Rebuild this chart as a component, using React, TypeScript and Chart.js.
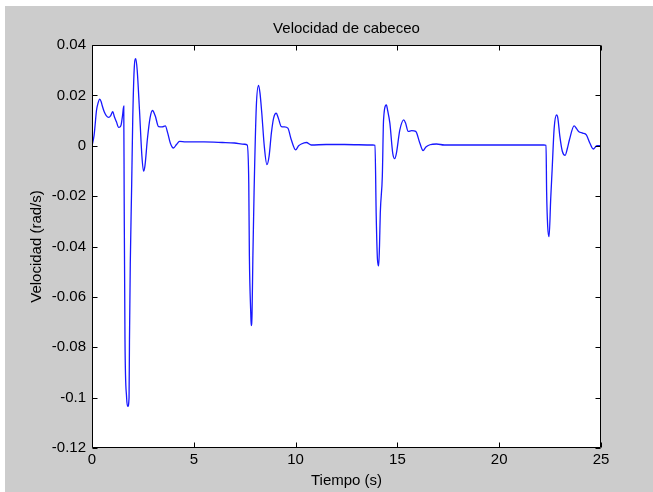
import React, { useEffect, useRef } from 'react';
import { Chart, registerables } from 'chart.js';

Chart.register(...registerables);

// ---- data ----
const timeS: number[] = [
  0, 0.1, 0.15, 0.22, 0.3, 0.38, 0.45, 0.5, 0.6, 0.7, 0.82, 0.92, 1.02, 1.1, 1.2, 1.31, 1.38, 1.43, 1.5, 1.56,
  1.58, 1.62, 1.7, 1.76, 1.82, 1.84, 1.88, 1.95, 2.0, 2.07, 2.15, 2.22, 2.33, 2.45, 2.53, 2.6, 2.72, 2.85, 2.97,
  3.1, 3.27, 3.45, 3.6, 3.72, 3.85, 4.0, 4.15, 4.3, 4.6, 5.5, 6.4, 7.0, 7.5, 7.62,
  7.7, 7.73, 7.8, 7.82, 7.86, 7.9, 7.96, 8.07, 8.18, 8.25, 8.34, 8.46, 8.59, 8.7, 8.81, 8.92, 9.05, 9.15, 9.3,
  9.45, 9.62, 9.78, 10.0, 10.15, 10.28, 10.53, 10.77, 11.5, 12.4, 13.8, 13.9,
  13.96, 14.02, 14.08, 14.12, 14.16, 14.26, 14.32, 14.46, 14.52, 14.63, 14.77, 14.87, 14.95, 15.12, 15.31, 15.4,
  15.53, 15.7, 15.9, 16.1, 16.26, 16.4, 16.6, 16.92, 17.3, 19, 21, 22.2, 22.3,
  22.33, 22.38, 22.45, 22.53, 22.6, 22.7, 22.82, 22.88, 22.98, 23.1, 23.24, 23.35, 23.45, 23.68, 23.8, 23.9,
  24.1, 24.28, 24.45, 24.62, 24.8, 25,
];
const velocity: number[] = [
  0, 0.004, 0.008, 0.014, 0.017, 0.0185, 0.0175, 0.016, 0.0135, 0.012, 0.0113, 0.012, 0.0135, 0.0115, 0.0095, 0.0073, 0.0075, 0.0083, 0.012, 0.0157,
  -0.02, -0.077, -0.1, -0.1035, -0.1, -0.078, -0.047, -0.015, 0.01, 0.03, 0.0346, 0.03, 0.0145, -0.004, -0.0101, -0.008, 0.0026, 0.011, 0.014,
  0.012, 0.0076, 0.0075, 0.0079, 0.005, 0.001, -0.0009, 0.0005, 0.0017, 0.0015, 0.0015, 0.0013, 0.0011, 0.0006, 0.0003,
  -0.015, -0.0437, -0.067, -0.0714, -0.067, -0.045, -0.0186, 0.0155, 0.024, 0.021, 0.0129, 0, -0.0075, -0.004, 0.005, 0.011, 0.0129, 0.011, 0.0076,
  0.0075, 0.007, 0.0026, -0.0016, 0, 0.0007, 0.0013, 0.0003, 0.0005, 0.0005, 0.0003, 0.0002,
  -0.028, -0.045, -0.0477, -0.04, -0.0266, -0.012, 0.0103, 0.0162, 0.014, 0.009, -0.0029, -0.0051, -0.003, 0.0063, 0.0103, 0.009,
  0.0057, 0.006, 0.0057, 0.0011, -0.0019, -0.0005, 0.0004, 0.0007, 0.0003, 0.0003, 0.0003, 0.0003, 0.0002,
  -0.0185, -0.0317, -0.0361, -0.021, -0.0095, 0.007, 0.0122, 0.011, 0.0037, -0.0022, -0.0038, -0.001, 0.0024, 0.0079, 0.0068, 0.0057,
  0.005, 0.0043, 0.0011, -0.0013, 0, 0,
];
const xTickValues: number[] = [0, 5, 10, 15, 20, 25];
const yTickValues: number[] = [0.04, 0.02, 0, -0.02, -0.04, -0.06, -0.08, -0.1, -0.12];
const chartTitle = 'Velocidad de cabeceo';
const xAxisLabel = 'Tiempo (s)';
const yAxisLabel = 'Velocidad (rad/s)';

const W = 653;
const H = 492;
const FONT = "'Liberation Sans', Arial, Helvetica, sans-serif";

const framePlugin = {
  id: 'matlabFrame',
  beforeDraw(chart: any) {
    const { ctx, chartArea: a } = chart;
    ctx.save();
    ctx.fillStyle = '#ffffff';
    ctx.fillRect(0, 0, W, H);
    ctx.fillStyle = '#cccccc';
    ctx.fillRect(5, 6, W - 5, H - 6);
    ctx.fillStyle = '#ffffff';
    ctx.fillRect(a.left, a.top, a.right - a.left, a.bottom - a.top);
    ctx.restore();
  },
  afterDatasetsDraw(chart: any) {
    const { ctx, chartArea: a, scales } = chart;
    const xs = scales.x;
    const ys = scales.y;
    const L = 5;
    const l = Math.round(a.left) + 0.5;
    const r = Math.round(a.right) - 0.5;
    const t = Math.round(a.top) + 0.5;
    const b = Math.round(a.bottom) - 0.5;
    ctx.save();
    ctx.strokeStyle = '#000000';
    ctx.lineWidth = 1;
    ctx.beginPath();
    ctx.rect(l, t, r - l, b - t);
    xTickValues.forEach((v) => {
      const px = Math.round(xs.getPixelForValue(v)) + 0.5;
      ctx.moveTo(px, b);
      ctx.lineTo(px, b - L);
      ctx.moveTo(px, t);
      ctx.lineTo(px, t + L);
    });
    yTickValues.forEach((v) => {
      const py = Math.round(ys.getPixelForValue(v)) + 0.5;
      ctx.moveTo(l, py);
      ctx.lineTo(l + L, py);
      ctx.moveTo(r, py);
      ctx.lineTo(r - L, py);
    });
    ctx.stroke();
    ctx.restore();
  },
};

export default function App() {
  const ref = useRef<HTMLCanvasElement | null>(null);

  useEffect(() => {
    document.body.style.margin = '0';
    const canvas = ref.current;
    if (!canvas) return;
    const points = timeS.map((t, i) => ({ x: t, y: velocity[i] }));
    const chart = new Chart(canvas, {
      type: 'line',
      data: {
        datasets: [
          {
            data: points,
            borderColor: '#1818ff',
            borderWidth: 1.3,
            pointRadius: 0,
            cubicInterpolationMode: 'monotone',
            fill: false,
            xAxisID: 'x',
            yAxisID: 'y',
          },
        ],
      },
      options: {
        responsive: false,
        animation: false,
        devicePixelRatio: 1,
        layout: { padding: { left: 0, top: 0, right: 52, bottom: 0 } },
        plugins: {
          legend: { display: false },
          tooltip: { enabled: false },
          title: { display: false },
        },
        scales: {
          x: {
            type: 'linear',
            position: 'bottom',
            min: 0,
            max: 25,
            grid: { display: false, drawTicks: false },
            border: { display: false },
            afterBuildTicks: (scale: any) => {
              scale.ticks = xTickValues.map((v) => ({ value: v }));
            },
            afterFit: (scale: any) => {
              scale.height = 44;
            },
            ticks: {
              color: '#000000',
              padding: 3,
              maxRotation: 0,
              autoSkip: false,
              font: { family: FONT, size: 15 },
              callback: (v: any) => String(v),
            },
            title: {
              display: true,
              text: xAxisLabel,
              color: '#000000',
              font: { family: FONT, size: 15, lineHeight: 1.2 },
              padding: { top: 0, bottom: 2 },
            },
          },
          titleAxis: {
            type: 'linear',
            position: 'top',
            min: 0,
            max: 25,
            grid: { display: false, drawTicks: false },
            border: { display: false },
            ticks: { display: false },
            afterFit: (scale: any) => {
              scale.height = 45;
            },
            title: {
              display: true,
              text: chartTitle,
              color: '#000000',
              font: { family: FONT, size: 15, lineHeight: 1.2 },
              padding: { top: 20, bottom: 0 },
            },
          },
          y: {
            type: 'linear',
            min: -0.12,
            max: 0.04,
            grid: { display: false, drawTicks: false },
            border: { display: false },
            afterBuildTicks: (scale: any) => {
              scale.ticks = yTickValues.map((v) => ({ value: v }));
            },
            afterFit: (scale: any) => {
              scale.width = 92;
            },
            ticks: {
              color: '#000000',
              padding: 6,
              autoSkip: false,
              font: { family: FONT, size: 15 },
              callback: (v: any) => String(Number(Number(v).toFixed(2))),
            },
            title: {
              display: true,
              text: yAxisLabel,
              color: '#000000',
              font: { family: FONT, size: 15, lineHeight: 1.2 },
              padding: { top: 28, bottom: 0 },
            },
          },
        },
      },
      plugins: [framePlugin],
    });
    return () => chart.destroy();
  }, []);

  return (
    <div style={{ width: W, height: H }}>
      <canvas ref={ref} width={W} height={H} style={{ display: 'block', width: W, height: H }} />
    </div>
  );
}
